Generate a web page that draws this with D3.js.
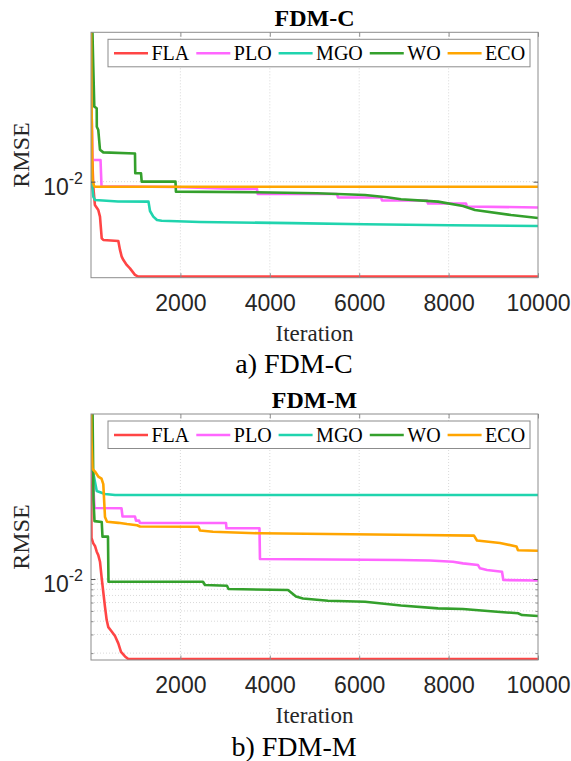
<!DOCTYPE html>
<html>
<head>
<meta charset="utf-8">
<script src="https://cdn.jsdelivr.net/npm/d3@7"></script>
<style>
  body { margin: 0; background: #fff; }
</style>
</head>
<body>
<div id="chart"></div>
<script>
const seriesNames = ["FLA", "PLO", "MGO", "WO", "ECO"];
const seriesColors = ["#ff4545", "#ff66ff", "#20d4ae", "#34a02c", "#ffa500"];
const xTicks = [2000, 4000, 6000, 8000, 10000];
const yTicks = [0.01];
const minorTicksM = [0.002, 0.003, 0.004, 0.005, 0.006, 0.007, 0.008, 0.009];

// [iteration, RMSE]
const fdmcFLA = [[1,0.3],[22,0.0199],[51,0.00897],[87,0.00603],[163,0.00541],[201,0.00468],[240,0.00292],[275,0.00282],[611,0.00276],[649,0.00227],[687,0.00196],[722,0.00183],[799,0.00164],[872,0.00152],[984,0.00132],[1058,0.00127],[10000,0.00127]];
const fdmcPLO = [[1,0.3],[11,0.05],[34,0.016],[213,0.016],[235,0.00905],[1879,0.0089],[3266,0.00854],[3713,0.00854],[3730,0.00765],[5503,0.00765],[5525,0.0071],[6487,0.0071],[6510,0.00665],[7516,0.00665],[7540,0.00623],[8389,0.00623],[8410,0.00583],[10000,0.00571]];
const fdmcMGO = [[1,0.3],[7,0.0381],[16,0.01],[51,0.00722],[89,0.00672],[604,0.0065],[1286,0.00648],[1320,0.00529],[1394,0.00468],[1476,0.00435],[1581,0.00428],[2438,0.00417],[4496,0.00406],[6130,0.00397],[8030,0.00388],[10000,0.00382]];
const fdmcWO = [[1,0.3],[29,0.3],[51,0.1216],[74,0.051],[128,0.0493],[130,0.033],[163,0.0307],[201,0.02],[275,0.0189],[984,0.01845],[990,0.012],[1119,0.012],[1134,0.01],[1890,0.01],[1900,0.00805],[3669,0.00794],[5056,0.00778],[6130,0.00749],[6622,0.00712],[6935,0.00682],[7763,0.00648],[8322,0.0059],[8590,0.00541],[9396,0.00485],[10000,0.00454]];
const fdmcECO = [[1,0.3],[11,0.0594],[34,0.0104],[67,0.00911],[89,0.00897],[10000,0.00897]];

const fdmmFLA = [[1,0.1067],[11,0.0244],[51,0.0217],[89,0.0205],[128,0.0181],[163,0.0168],[201,0.01456],[240,0.01015],[275,0.00754],[313,0.00545],[351,0.0041],[387,0.00352],[463,0.0032],[537,0.0029],[611,0.00247],[671,0.00205],[761,0.00186],[834,0.00176],[10000,0.00176]];
const fdmmPLO = [[1,0.4],[11,0.2],[45,0.0859],[78,0.0468],[682,0.0465],[705,0.0389],[984,0.0389],[1007,0.0356],[1074,0.0356],[1096,0.0338],[3020,0.0338],[3031,0.0301],[3769,0.0301],[3780,0.01544],[6912,0.01511],[7584,0.01494],[8098,0.01456],[8322,0.01406],[8658,0.01355],[8702,0.01261],[8859,0.01216],[9195,0.01172],[9224,0.00978],[10000,0.00968]];
const fdmmMGO = [[1,0.2549],[11,0.1114],[51,0.1],[128,0.0676],[313,0.0634],[537,0.062],[10000,0.062]];
const fdmmWO = [[1,0.4],[34,0.4],[56,0.0556],[78,0.0352],[240,0.0345],[257,0.0251],[380,0.0251],[391,0.00943],[2505,0.00943],[2550,0.00878],[3042,0.00865],[3076,0.00805],[4407,0.00787],[4586,0.00684],[4742,0.00655],[5302,0.00624],[6130,0.00611],[6935,0.00562],[7763,0.00529],[8322,0.00521],[9083,0.00491],[9552,0.00475],[9642,0.00457],[10000,0.00448]];
const fdmmECO = [[1,0.4],[11,0.2],[34,0.1091],[89,0.1033],[163,0.0927],[235,0.0887],[275,0.0787],[313,0.0385],[358,0.0347],[611,0.0339],[805,0.033],[1029,0.0322],[1096,0.0313],[2405,0.0311],[2438,0.0287],[2729,0.0279],[3780,0.027],[5302,0.0266],[7360,0.026],[8568,0.0257],[8635,0.0231],[9150,0.0219],[9519,0.0203],[9552,0.01866],[10000,0.01849]];

const width = 571, height = 761;
const plotLeft = 91, plotRight = 538;
const serif = "'Liberation Serif', 'Times New Roman', serif";
const sans = "'Liberation Sans', Arial, sans-serif";

const panels = [
    {title: "FDM-C", caption: "a) FDM-C", top: 32.3, bottom: 277.7, yDomain: [1.242e-3, 0.2565], minor: [],
     data: [fdmcFLA, fdmcPLO, fdmcMGO, fdmcWO, fdmcECO]},
    {title: "FDM-M", caption: "b) FDM-M", top: 414, bottom: 660, yDomain: [1.722e-3, 0.3606], minor: minorTicksM,
     data: [fdmmFLA, fdmmPLO, fdmmMGO, fdmmWO, fdmmECO]}
];

const svg = d3.select("#chart").append("svg")
    .attr("width", width)
    .attr("height", height);

const x = d3.scaleLinear().domain([0, 10000]).range([plotLeft, plotRight]);

panels.forEach((p, i) => {
    const y = d3.scaleLog().domain(p.yDomain).range([p.bottom, p.top]);
    const g = svg.append("g");
    const clipId = "clip" + i;

    g.append("clipPath").attr("id", clipId)
        .append("rect")
        .attr("x", plotLeft).attr("y", p.top)
        .attr("width", plotRight - plotLeft).attr("height", p.bottom - p.top);

    // grid
    g.selectAll("line.vgrid").data(xTicks.slice(0, -1)).enter().append("line")
        .attr("x1", d => x(d)).attr("x2", d => x(d))
        .attr("y1", p.top).attr("y2", p.bottom)
        .style("stroke", "#cfcfcf").style("stroke-width", 0.8)
        .style("stroke-dasharray", "1,2");
    g.selectAll("line.hgrid").data(yTicks.concat(p.minor)).enter().append("line")
        .attr("x1", plotLeft).attr("x2", plotRight)
        .attr("y1", d => y(d)).attr("y2", d => y(d))
        .style("stroke", "#cfcfcf").style("stroke-width", 0.8)
        .style("stroke-dasharray", "1,2");

    // series
    const line = d3.line().x(d => x(d[0])).y(d => y(d[1]));
    const lines = g.append("g").attr("clip-path", `url(#${clipId})`);
    p.data.forEach((series, k) => {
        lines.append("path")
            .datum(series)
            .attr("d", line)
            .style("fill", "none")
            .style("stroke", seriesColors[k])
            .style("stroke-width", 2.6)
            .style("stroke-linejoin", "round");
    });

    // box
    g.append("rect")
        .attr("x", plotLeft).attr("y", p.top)
        .attr("width", plotRight - plotLeft).attr("height", p.bottom - p.top)
        .style("fill", "none").style("stroke", "#8c8c8c").style("stroke-width", 1);

    // ticks
    const tickColor = "#262626";
    const xb = g.append("g").attr("transform", `translate(0,${p.bottom})`)
        .call(d3.axisBottom(x).tickValues(xTicks).tickFormat(d3.format("d"))
            .tickSizeInner(-4.5).tickSizeOuter(0).tickPadding(16.5));
    xb.select(".domain").remove();
    xb.selectAll("line").style("stroke", "#8c8c8c");
    xb.selectAll("text").style("font-family", sans).style("font-size", "23px").style("fill", tickColor);

    const xt = g.append("g").attr("transform", `translate(0,${p.top})`)
        .call(d3.axisTop(x).tickValues(xTicks).tickSizeInner(-4.5).tickSizeOuter(0).tickFormat(""));
    xt.select(".domain").remove();
    xt.selectAll("line").style("stroke", "#8c8c8c");

    [[d3.axisLeft, plotLeft], [d3.axisRight, plotRight]].forEach(([ax, pos]) => {
        const ya = g.append("g").attr("transform", `translate(${pos},0)`)
            .call(ax(y).tickValues(yTicks).tickSizeInner(-4.5).tickSizeOuter(0).tickFormat(""));
        ya.select(".domain").remove();
        ya.selectAll("line").style("stroke", "#555");
        if (p.minor.length) {
            const ym = g.append("g").attr("transform", `translate(${pos},0)`)
                .call(ax(y).tickValues(p.minor).tickSizeInner(-2.5).tickSizeOuter(0).tickFormat(""));
            ym.select(".domain").remove();
            ym.selectAll("line").style("stroke", "#8c8c8c");
        }
    });

    // y tick label 10^-2
    yTicks.forEach(v => {
        const t = g.append("text")
            .attr("x", plotLeft - 8)
            .attr("y", y(v) + 13.3)
            .attr("text-anchor", "end")
            .style("font-family", sans).style("font-size", "23px").style("fill", tickColor);
        t.append("tspan").text("10");
        t.append("tspan").attr("dy", -11).style("font-size", "16px")
            .text(String(Math.round(Math.log10(v))));
    });

    // labels
    g.append("text")
        .attr("x", (plotLeft + plotRight) / 2).attr("y", p.top - 6.3)
        .attr("text-anchor", "middle")
        .style("font-family", serif).style("font-weight", "bold").style("font-size", "24px")
        .text(p.title);

    g.append("text")
        .attr("transform", `translate(29,${(p.top + p.bottom) / 2}) rotate(-90)`)
        .attr("text-anchor", "middle")
        .style("font-family", serif).style("font-size", "24px").style("fill", tickColor)
        .text("RMSE");

    g.append("text")
        .attr("x", (plotLeft + plotRight) / 2).attr("y", p.bottom + 63)
        .attr("text-anchor", "middle")
        .style("font-family", serif).style("font-size", "23px").style("fill", tickColor)
        .text("Iteration");

    g.append("text")
        .attr("x", 294).attr("y", p.bottom + 95.5)
        .attr("text-anchor", "middle")
        .style("font-family", serif).style("font-size", "28px")
        .text(p.caption);

    // legend
    const legTop = p.top + 7;
    const leg = g.append("g");
    leg.append("rect")
        .attr("x", 108).attr("y", legTop)
        .attr("width", 530 - 108).attr("height", 27.5)
        .style("fill", "#fff").style("stroke", "#8c8c8c").style("stroke-width", 1);
    let cx = 114;
    seriesNames.forEach((name, k) => {
        leg.append("line")
            .attr("x1", cx).attr("x2", cx + 34)
            .attr("y1", legTop + 14).attr("y2", legTop + 14)
            .style("stroke", seriesColors[k]).style("stroke-width", 2.6);
        const t = leg.append("text")
            .attr("x", cx + 37.5).attr("y", legTop + 20.8)
            .style("font-family", serif).style("font-size", "20px")
            .text(name);
        cx += 37.5 + t.node().getComputedTextLength() + 7;
    });
});
</script>
</body>
</html>
